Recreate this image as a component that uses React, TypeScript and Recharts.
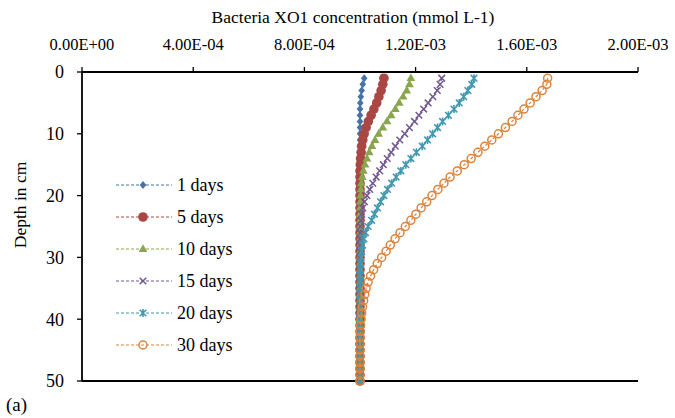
import { ScatterChart, Scatter, XAxis, YAxis, ReferenceLine } from 'recharts';

// depth (cm) of every model node
const depths = [
  1, 2, 3, 4, 5, 6, 7, 8, 9, 10, 11, 12, 13, 14, 15, 16, 17, 18, 19, 20, 21, 22, 23, 24, 25,
  26, 27, 28, 29, 30, 31, 32, 33, 34, 35, 36, 37, 38, 39, 40, 41, 42, 43, 44, 45, 46, 47, 48, 49, 50,
];

// Bacteria XO1 concentration (mmol L-1) at each depth
const day1 = [
  0.001015, 0.00101, 0.001006, 0.001003, 0.001001, 0.001, 0.001, 0.001, 0.001, 0.001,
  0.001, 0.001, 0.001, 0.001, 0.001, 0.001, 0.001, 0.001, 0.001, 0.001,
  0.001, 0.001, 0.001, 0.001, 0.001, 0.001, 0.001, 0.001, 0.001, 0.001,
  0.001, 0.001, 0.001, 0.001, 0.001, 0.001, 0.001, 0.001, 0.001, 0.001,
  0.001, 0.001, 0.001, 0.001, 0.001, 0.001, 0.001, 0.001, 0.001, 0.001,
];
const day5 = [
  0.001086, 0.001082, 0.001076, 0.001068, 0.00106, 0.00105, 0.00104, 0.00103, 0.001022, 0.001015,
  0.00101, 0.001006, 0.001004, 0.001002, 0.001001, 0.001, 0.001, 0.001, 0.001, 0.001,
  0.001, 0.001, 0.001, 0.001, 0.001, 0.001, 0.001, 0.001, 0.001, 0.001,
  0.001, 0.001, 0.001, 0.001, 0.001, 0.001, 0.001, 0.001, 0.001, 0.001,
  0.001, 0.001, 0.001, 0.001, 0.001, 0.001, 0.001, 0.001, 0.001, 0.001,
];
const day10 = [
  0.001183, 0.001178, 0.001168, 0.001155, 0.001141, 0.001127, 0.001112, 0.001097, 0.001082, 0.001067,
  0.001054, 0.001043, 0.001033, 0.001025, 0.001018, 0.001012, 0.001008, 0.001005, 0.001003, 0.001002,
  0.001001, 0.001, 0.001, 0.001, 0.001, 0.001, 0.001, 0.001, 0.001, 0.001,
  0.001, 0.001, 0.001, 0.001, 0.001, 0.001, 0.001, 0.001, 0.001, 0.001,
  0.001, 0.001, 0.001, 0.001, 0.001, 0.001, 0.001, 0.001, 0.001, 0.001,
];
const day15 = [
  0.001294, 0.001288, 0.001278, 0.001262, 0.001245, 0.001229, 0.001212, 0.001196, 0.001178, 0.001161,
  0.001143, 0.001127, 0.001112, 0.001098, 0.001084, 0.001071, 0.001058, 0.001046, 0.001035, 0.001025,
  0.001016, 0.00101, 0.001006, 0.001003, 0.001002, 0.001001, 0.001, 0.001, 0.001, 0.001,
  0.001, 0.001, 0.001, 0.001, 0.001, 0.001, 0.001, 0.001, 0.001, 0.001,
  0.001, 0.001, 0.001, 0.001, 0.001, 0.001, 0.001, 0.001, 0.001, 0.001,
];
const day20 = [
  0.00141, 0.001402, 0.001388, 0.001373, 0.001357, 0.001338, 0.001318, 0.001297, 0.001279, 0.001261,
  0.001243, 0.001224, 0.001203, 0.001183, 0.001165, 0.001147, 0.00113, 0.001114, 0.001099, 0.001086,
  0.001074, 0.001063, 0.001052, 0.001042, 0.001029, 0.00102, 0.001014, 0.001009, 0.001006, 0.001004,
  0.001002, 0.001001, 0.001, 0.001, 0.001, 0.001, 0.001, 0.001, 0.001, 0.001,
  0.001, 0.001, 0.001, 0.001, 0.001, 0.001, 0.001, 0.001, 0.001, 0.001,
];
const day30 = [
  0.001675, 0.001672, 0.001655, 0.001633, 0.001612, 0.00159, 0.001568, 0.001547, 0.001523, 0.001498,
  0.001474, 0.001449, 0.001424, 0.0014, 0.001375, 0.00135, 0.001324, 0.001302, 0.00128, 0.001259,
  0.00124, 0.00122, 0.001201, 0.001183, 0.001163, 0.001144, 0.001126, 0.001109, 0.001094, 0.001078,
  0.001062, 0.001049, 0.001038, 0.001029, 0.001022, 0.001017, 0.001013, 0.001009, 0.001006, 0.001004,
  0.001002, 0.001001, 0.001, 0.001, 0.001, 0.001, 0.001, 0.001, 0.001, 0.001,
];

const seriesNames = ['1 days', '5 days', '10 days', '15 days', '20 days', '30 days'];
const seriesValues = [day1, day5, day10, day15, day20, day30];
const colors = ['#4572A7', '#AA4643', '#89A54E', '#71588F', '#4198AF', '#DB843D'];
const markers = ['diamond', 'circle', 'triangle', 'cross', 'star', 'ring'];

const xTicks = [0, 0.0004, 0.0008, 0.0012, 0.0016, 0.002];
const xTickLabels = ['0.00E+00', '4.00E-04', '8.00E-04', '1.20E-03', '1.60E-03', '2.00E-03'];
const yTicks = [0, 10, 20, 30, 40, 50];

const FONT = '"Liberation Serif", "Times New Roman", serif';

function Marker({ kind, cx, cy, color }: { kind: string; cx: number; cy: number; color: string }) {
  switch (kind) {
    case 'diamond':
      return <path d={`M${cx},${cy - 4}L${cx + 3.3},${cy}L${cx},${cy + 4}L${cx - 3.3},${cy}Z`} fill={color} />;
    case 'circle':
      return <circle cx={cx} cy={cy} r={4.8} fill={color} />;
    case 'triangle':
      return <path d={`M${cx},${cy - 4.8}L${cx + 4.4},${cy + 2.9}L${cx - 4.4},${cy + 2.9}Z`} fill={color} />;
    case 'cross':
      return (
        <path
          d={`M${cx - 3.3},${cy - 3.3}L${cx + 3.3},${cy + 3.3}M${cx - 3.3},${cy + 3.3}L${cx + 3.3},${cy - 3.3}`}
          stroke={color}
          strokeWidth={1.5}
        />
      );
    case 'star':
      return (
        <path
          d={`M${cx - 3.3},${cy - 3.3}L${cx + 3.3},${cy + 3.3}M${cx - 3.3},${cy + 3.3}L${cx + 3.3},${cy - 3.3}M${cx},${cy - 4}L${cx},${cy + 4}`}
          stroke={color}
          strokeWidth={1.6}
        />
      );
    default:
      return <circle cx={cx} cy={cy} r={4} fill="none" stroke={color} strokeWidth={1.5} />;
  }
}

function LegendBox() {
  return (
    <div
      style={{
        position: 'absolute',
        left: 115,
        top: 169,
        fontFamily: FONT,
        fontSize: 18,
        color: '#000',
        lineHeight: '32px',
      }}
    >
      {seriesNames.map((name, i) => (
        <div key={name} style={{ display: 'flex', alignItems: 'center', height: 32 }}>
          <svg width={60} height={12} style={{ marginRight: 2 }}>
            <line x1={1} y1={6} x2={57} y2={6} stroke={colors[i]} strokeWidth={1.2} strokeDasharray="3 2" />
            <Marker kind={markers[i]} cx={28} cy={6} color={colors[i]} />
          </svg>
          <span>{name}</span>
        </div>
      ))}
    </div>
  );
}

export default function App() {
  return (
    <div style={{ position: 'absolute', left: 0, top: 0, width: 675, height: 418, background: '#fff' }}>
      <ScatterChart width={675} height={418} margin={{ top: 0, right: 37, bottom: 37, left: 0 }}>
        <XAxis
          type="number"
          dataKey="x"
          orientation="top"
          domain={[0, 0.002]}
          ticks={xTicks}
          tickFormatter={(v: number) => xTickLabels[xTicks.indexOf(v)] ?? ''}
          height={72}
          tickSize={5}
          tickMargin={17}
          axisLine={{ stroke: '#000', strokeWidth: 1.8 }}
          tickLine={{ stroke: '#000', strokeWidth: 1.3 }}
          tick={{ fill: '#000', fontSize: 16.5, fontFamily: FONT }}
          interval={0}
          label={{
            content: () => (
              <text x={353} y={23} textAnchor="middle" fontFamily={FONT} fontSize={17.5} fill="#000">
                Bacteria XO1 concentration (mmol L-1)
              </text>
            ),
          }}
        />
        <YAxis
          type="number"
          dataKey="y"
          reversed
          domain={[0, 50]}
          ticks={yTicks}
          width={82}
          tickSize={5}
          tickMargin={13}
          axisLine={{ stroke: '#000', strokeWidth: 1.8 }}
          tickLine={{ stroke: '#000', strokeWidth: 1.3 }}
          tick={{ fill: '#000', fontSize: 18, fontFamily: FONT }}
          interval={0}
          label={{
            content: () => (
              <g fontFamily={FONT} fill="#000">
                <text x={26} y={205} textAnchor="middle" fontSize={17.5} transform="rotate(-90 26 205)">
                  Depth in cm
                </text>
                <text x={6} y={411} fontSize={19}>
                  (a)
                </text>
              </g>
            ),
          }}
        />
        <ReferenceLine y={50} stroke="#000" strokeWidth={1.8} />
        {seriesValues.map((vals, i) => (
          <Scatter
            key={seriesNames[i]}
            name={seriesNames[i]}
            data={depths.map((d, k) => ({ x: vals[k], y: d }))}
            fill={colors[i]}
            isAnimationActive={false}
            line={{ stroke: colors[i], strokeWidth: 1.2, strokeDasharray: '3 2' }}
            shape={(p: any) => <Marker kind={markers[i]} cx={p.cx} cy={p.cy} color={colors[i]} />}
          />
        ))}
      </ScatterChart>
      <LegendBox />
    </div>
  );
}
